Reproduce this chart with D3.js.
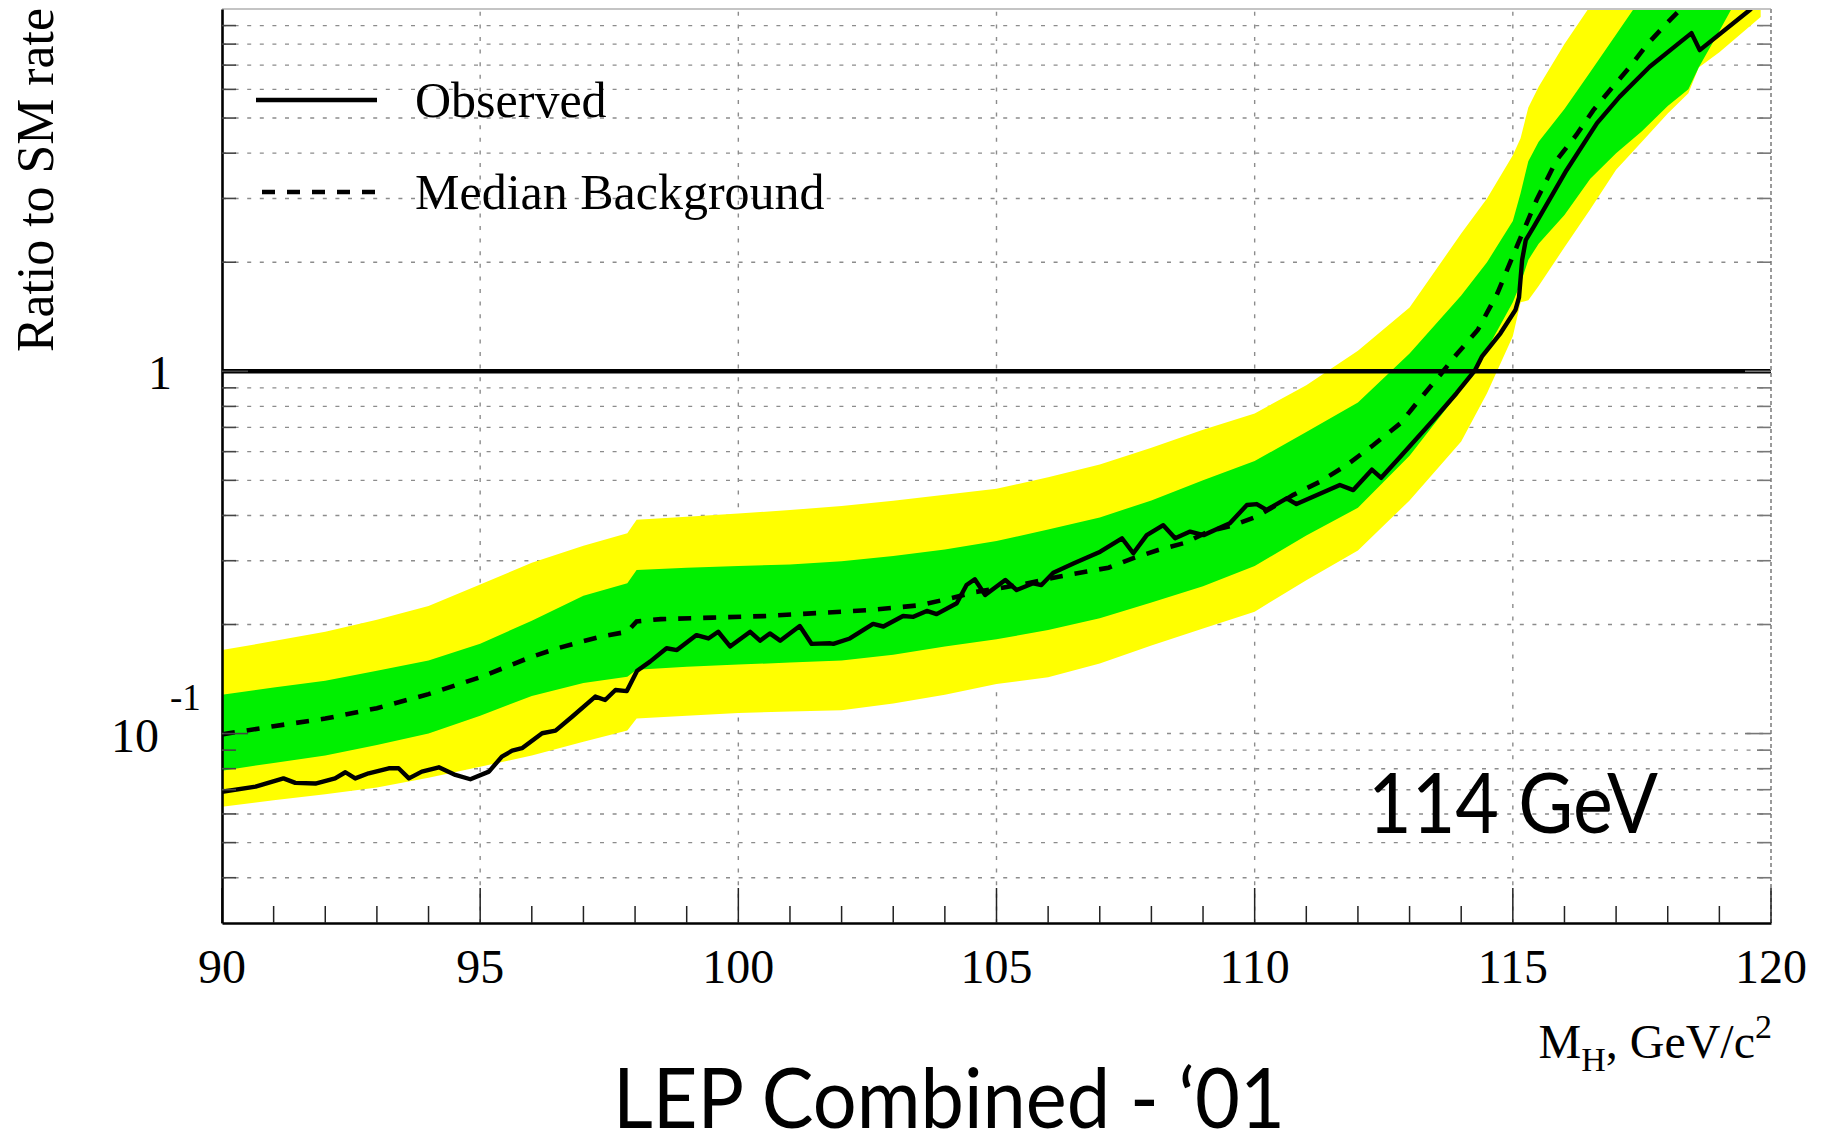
<!DOCTYPE html>
<html>
<head>
<meta charset="utf-8">
<script src="https://cdn.jsdelivr.net/npm/d3@7"></script>
<style>
  html, body { margin: 0; padding: 0; background: #ffffff; }
  svg { display: block; }
</style>
</head>
<body>
<svg id="chart" width="1824" height="1137"></svg>
<script>
// Higgs mass hypotheses (GeV/c^2) at which the expected-limit bands are given
const bandMass = [90, 91, 92, 93, 94, 95, 96, 97, 97.85, 98.03, 99, 100, 101, 102, 103, 104, 105, 106, 107, 108, 109, 110,
  111, 112, 113, 114, 114.5, 115, 115.15, 115.3, 115.5, 116, 116.5, 117, 117.5, 118, 118.4, 118.6, 119, 119.8];

// ±2 sigma band (yellow), lower and upper edges
const yellowLow = [0.0628, 0.0655, 0.068, 0.071, 0.0755, 0.081, 0.087, 0.095, 0.102, 0.110, 0.112, 0.114, 0.115, 0.116, 0.121,
  0.128, 0.137, 0.143, 0.156, 0.175, 0.195, 0.217, 0.265, 0.320, 0.440, 0.640, 0.87, 1.25, 1.55, 1.57, 1.72, 2.2, 2.8, 3.6,
  4.3, 5.15, 5.85, 6.9, 7.6, 9.5];
const yellowHigh = [0.170, 0.180, 0.191, 0.206, 0.225, 0.258, 0.296, 0.330, 0.357, 0.389, 0.397, 0.405, 0.414, 0.425, 0.439,
  0.456, 0.474, 0.510, 0.553, 0.615, 0.690, 0.765, 0.915, 1.14, 1.50, 2.40, 3.0, 3.95, 4.4, 5.35, 6.1, 8.0, 10.2, 12,
  14, 16, 17.5, 18.5, 20, 24];

// ±1 sigma band (green), lower and upper edges
const greenLow = [0.079, 0.083, 0.087, 0.093, 0.100, 0.112, 0.127, 0.138, 0.1436, 0.150, 0.153, 0.155, 0.157, 0.159, 0.165,
  0.174, 0.182, 0.193, 0.208, 0.230, 0.255, 0.290, 0.352, 0.420, 0.585, 0.89, 1.15, 1.55, 1.75, 2.03, 2.25, 2.7, 3.4, 4.0,
  4.6, 5.4, 6.0, 6.9, 8.7, 14];
const greenHigh = [0.128, 0.134, 0.140, 0.149, 0.159, 0.177, 0.205, 0.240, 0.260, 0.283, 0.287, 0.290, 0.293, 0.299, 0.309,
  0.322, 0.340, 0.366, 0.395, 0.440, 0.500, 0.565, 0.680, 0.820, 1.12, 1.62, 2.0, 2.6, 3.1, 3.8, 4.3, 5.3, 6.7, 8.5,
  10.8, 13, 14.5, 15.3, 17, 21];

// Median expected limit for background only
const medianMass = [90, 91, 92, 93, 94, 95, 96, 96.5, 97, 97.4, 97.85, 98.03, 98.5, 99.5, 100.5, 101.5, 102.5, 103.5, 104.1,
  104.6, 105.5, 106.2, 106.75, 107.17, 107.65, 108.13, 108.65, 109.1, 109.59, 110.04, 110.75, 111.27, 111.78, 112.3,
  112.82, 113.22, 113.6, 113.9, 114.32, 114.7, 115.1, 115.46, 115.85, 116.23, 116.56, 116.88, 117.27, 117.59, 117.98,
  118.4, 119, 119.8];
const medianRatio = [0.0995, 0.1048, 0.110, 0.1175, 0.1285, 0.143, 0.163, 0.172, 0.180, 0.186, 0.191, 0.204, 0.207, 0.209,
  0.211, 0.215, 0.219, 0.226, 0.236, 0.246, 0.258, 0.271, 0.280, 0.287, 0.305, 0.321, 0.336, 0.361, 0.376, 0.397, 0.456,
  0.496, 0.551, 0.626, 0.718, 0.845, 0.98, 1.109, 1.30, 1.64, 2.25, 2.97, 3.83, 4.49, 5.26, 5.97, 6.93, 7.95, 9.13,
  10.5, 12.5, 15];

// Observed limit
const observedMass = [90, 90.65, 91.19, 91.42, 91.81, 92.19, 92.39, 92.58, 92.84, 93.23, 93.42, 93.62, 93.87, 94.2, 94.52,
  94.81, 95.17, 95.42, 95.62, 95.81, 96.2, 96.46, 96.78, 97.23, 97.42, 97.62, 97.84, 98.04, 98.29, 98.61, 98.81, 99.19,
  99.42, 99.61, 99.84, 100.23, 100.42, 100.61, 100.81, 101.19, 101.42, 101.78, 101.84, 102.16, 102.61, 102.81, 103.19,
  103.39, 103.65, 103.84, 104.23, 104.42, 104.58, 104.78, 105.17, 105.39, 105.71, 105.87, 106.1, 106.5, 107.01, 107.43,
  107.65, 107.91, 108.23, 108.46, 108.75, 109.01, 109.52, 109.85, 110.04, 110.23, 110.62, 110.81, 111.65, 111.91,
  112.27, 112.45, 112.82, 113.46, 113.91, 114.27, 114.4, 114.76, 115.05, 115.12, 115.18, 115.25, 115.41, 116.04,
  116.63, 117.07, 117.65, 118.17, 118.46, 118.62, 119.6, 119.8];
const observedRatio = [0.0691, 0.0714, 0.0752, 0.0731, 0.0728, 0.0752, 0.0782, 0.0752, 0.0777, 0.0802, 0.0802, 0.0752,
  0.0785, 0.0807, 0.0769, 0.0748, 0.0785, 0.0864, 0.0897, 0.0911, 0.1002, 0.1019, 0.1113, 0.1265, 0.1238, 0.1319, 0.1310,
  0.149, 0.158, 0.172, 0.170, 0.187, 0.183, 0.191, 0.174, 0.191, 0.1805, 0.189, 0.1805, 0.198, 0.1768, 0.1775, 0.1768,
  0.183, 0.2007, 0.1975, 0.2112, 0.210, 0.218, 0.2136, 0.229, 0.257, 0.2667, 0.2412, 0.2655, 0.249, 0.260, 0.257, 0.278,
  0.295, 0.3177, 0.346, 0.3145, 0.353, 0.376, 0.346, 0.361, 0.353, 0.3805, 0.4276, 0.430, 0.4143, 0.446, 0.430, 0.4855,
  0.470, 0.535, 0.508, 0.581, 0.734, 0.870, 1.008, 1.097, 1.273, 1.476, 1.60, 2.03, 2.30, 2.51, 3.59, 4.84, 5.73, 6.93,
  7.95, 8.58, 7.7, 9.97, 10.6];

// Axis ticks and labels
const xTickValues = d3.range(90, 121, 1);
const xTickLabels = [90, 95, 100, 105, 110, 115, 120];
const xGridValues = [95, 100, 105, 110, 115];
const yGridValues = [0.04, 0.05, 0.06, 0.07, 0.08, 0.09, 0.1, 0.2, 0.3, 0.4, 0.5, 0.6, 0.7, 0.8, 0.9, 2, 3, 4, 5, 6, 7, 8, 9];
const yMajorValues = [0.1, 1];
const legendLabels = ["Observed", "Median Background"];

// ---------------------------------------------------------------------------
(function draw() {
  const svg = d3.select("#chart");
  const pLeft = 222, pRight = 1771, pTop = 9, pBottom = 923;
  const serif = "'Liberation Serif', 'Times New Roman', serif";
  const sans = "Lato, 'Open Sans', sans-serif";

  const x = d3.scaleLinear().domain([90, 120]).range([pLeft, pRight]);
  const y = d3.scaleLog().domain([0.03, 10]).range([pBottom, pTop]);

  svg.append("rect").attr("width", 1824).attr("height", 1137).attr("fill", "#ffffff");

  svg.append("defs").append("clipPath").attr("id", "plotClip")
    .append("rect").attr("x", pLeft).attr("y", pTop).attr("width", pRight - pLeft).attr("height", pBottom - pTop);

  // grid
  const grid = svg.append("g").attr("stroke", "#8c8c8c").attr("stroke-width", 1.4)
    .attr("stroke-dasharray", "4,8.6").attr("fill", "none");
  grid.selectAll("line.h").data(yGridValues).join("line").attr("class", "h")
    .attr("x1", pLeft).attr("x2", pRight)
    .attr("y1", d => y(d)).attr("y2", d => y(d));
  grid.selectAll("line.v").data(xGridValues).join("line").attr("class", "v")
    .attr("x1", d => x(d)).attr("x2", d => x(d))
    .attr("y1", pBottom).attr("y2", pTop);

  // bands
  const bandRows = bandMass.map((m, i) => ({ m, yl: yellowLow[i], yh: yellowHigh[i], gl: greenLow[i], gh: greenHigh[i] }));
  const plot = svg.append("g").attr("clip-path", "url(#plotClip)");
  plot.append("path").datum(bandRows)
    .attr("fill", "#ffff00")
    .attr("d", d3.area().x(d => x(d.m)).y0(d => y(d.yl)).y1(d => y(d.yh)));
  plot.append("path").datum(bandRows)
    .attr("fill", "#00f000")
    .attr("d", d3.area().x(d => x(d.m)).y0(d => y(d.gl)).y1(d => y(d.gh)));

  // reference line at ratio 1
  svg.append("line")
    .attr("x1", pLeft).attr("x2", pRight)
    .attr("y1", y(1)).attr("y2", y(1))
    .attr("stroke", "#000").attr("stroke-width", 4.6);

  // median expected and observed curves
  const medianRows = medianMass.map((m, i) => ({ m, v: medianRatio[i] }));
  const observedRows = observedMass.map((m, i) => ({ m, v: observedRatio[i] }));
  const line = d3.line().x(d => x(d.m)).y(d => y(d.v));
  plot.append("path").datum(medianRows)
    .attr("fill", "none").attr("stroke", "#000").attr("stroke-width", 4.6)
    .attr("stroke-dasharray", "13,12")
    .attr("d", line);
  plot.append("path").datum(observedRows)
    .attr("fill", "none").attr("stroke", "#000").attr("stroke-width", 4.4)
    .attr("stroke-linejoin", "round")
    .attr("d", line);

  // frame
  svg.append("line").attr("x1", pLeft).attr("x2", pRight).attr("y1", pTop).attr("y2", pTop)
    .attr("stroke", "#c4c4c4").attr("stroke-width", 2.2);
  svg.append("line").attr("x1", pRight).attr("x2", pRight).attr("y1", pTop).attr("y2", pBottom)
    .attr("stroke", "#9a9a9a").attr("stroke-width", 2).attr("stroke-dasharray", "4,3");

  // x axis
  const xAxis = d3.axisBottom(x).tickValues(xTickValues).tickSize(0).tickFormat("");
  const xg = svg.append("g").attr("transform", `translate(0,${pBottom})`).call(xAxis);
  xg.select(".domain").attr("stroke", "#000").attr("stroke-width", 2.6);
  svg.append("g").selectAll("line").data(xTickValues).join("line")
    .attr("x1", d => x(d)).attr("x2", d => x(d))
    .attr("y1", pBottom).attr("y2", d => pBottom - (d % 5 === 0 ? 35 : 17))
    .attr("stroke", "#222").attr("stroke-width", 1.5);
  svg.append("g").selectAll("text").data(xTickLabels).join("text")
    .attr("x", d => x(d)).attr("y", 983)
    .attr("text-anchor", "middle")
    .attr("font-family", serif).attr("font-size", 48)
    .text(d => d);

  // y axis
  const yAxis = d3.axisLeft(y).tickValues([]).tickSize(0);
  const yg = svg.append("g").attr("transform", `translate(${pLeft},0)`).call(yAxis);
  yg.select(".domain").attr("stroke", "#000").attr("stroke-width", 2.6);
  const yTicks = svg.append("g");
  yTicks.selectAll("line.l").data(yGridValues.concat([1])).join("line").attr("class", "l")
    .attr("x1", pLeft).attr("x2", d => pLeft + (yMajorValues.includes(d) ? 26 : 14))
    .attr("y1", d => y(d)).attr("y2", d => y(d))
    .attr("stroke", "#444").attr("stroke-width", 1.6);
  yTicks.selectAll("line.r").data(yGridValues.concat([1])).join("line").attr("class", "r")
    .attr("x1", pRight).attr("x2", d => pRight - (yMajorValues.includes(d) ? 26 : 14))
    .attr("y1", d => y(d)).attr("y2", d => y(d))
    .attr("stroke", "#777").attr("stroke-width", 1.6);

  // y tick labels: 1 and 10^-1
  svg.append("text").attr("x", 172).attr("y", y(1) + 18)
    .attr("text-anchor", "end").attr("font-family", serif).attr("font-size", 48).text("1");
  svg.append("text").attr("x", 159).attr("y", y(0.1) + 18).attr("text-anchor", "end")
    .attr("font-family", serif).attr("font-size", 48).text("10");
  svg.append("text").attr("x", 170).attr("y", y(0.1) - 24)
    .attr("font-family", serif).attr("font-size", 37).text("-1");

  // axis titles
  svg.append("text")
    .attr("transform", "translate(53,352) rotate(-90)")
    .attr("font-family", serif).attr("font-size", 53)
    .attr("textLength", 344).attr("lengthAdjust", "spacingAndGlyphs")
    .text("Ratio to SM rate");

  const xt = svg.append("text").attr("x", 1772).attr("y", 1058)
    .attr("text-anchor", "end").attr("font-family", serif).attr("font-size", 48);
  xt.append("tspan").text("M");
  xt.append("tspan").attr("font-size", 34).attr("dy", 13).text("H");
  xt.append("tspan").attr("dy", -13).text(", GeV/c");
  xt.append("tspan").attr("font-size", 34).attr("dy", -20).text("2");

  // legend
  const legend = svg.append("g");
  legend.append("line").attr("x1", 256).attr("x2", 377).attr("y1", 100).attr("y2", 100)
    .attr("stroke", "#000").attr("stroke-width", 4.6);
  legend.append("line").attr("x1", 262).attr("x2", 377).attr("y1", 192).attr("y2", 192)
    .attr("stroke", "#000").attr("stroke-width", 4.6).attr("stroke-dasharray", "13,12");
  legend.selectAll("text").data(legendLabels).join("text")
    .attr("x", 415).attr("y", (d, i) => [117, 209][i])
    .attr("font-family", serif).attr("font-size", 50)
    .text(d => d);

  // annotations
  svg.append("text").attr("x", 1368).attr("y", 833)
    .attr("font-family", sans).attr("font-size", 84)
    .attr("textLength", 290).attr("lengthAdjust", "spacingAndGlyphs")
    .text("114 GeV");
  svg.append("text").attr("x", 613).attr("y", 1128)
    .attr("font-family", sans).attr("font-size", 84)
    .attr("textLength", 672).attr("lengthAdjust", "spacingAndGlyphs")
    .text("LEP Combined - \u201801");
})();
</script>
</body>
</html>
